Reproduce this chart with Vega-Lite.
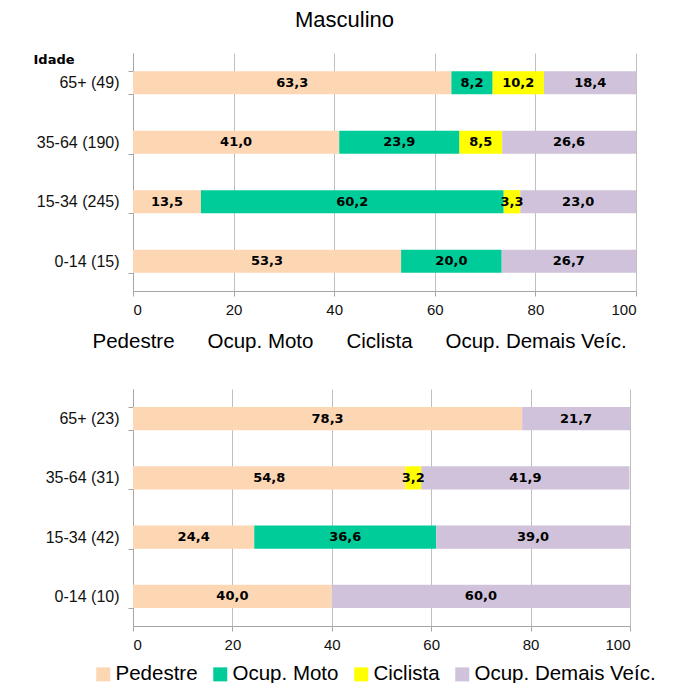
{
  "$schema": "https://vega.github.io/schema/vega-lite/v6.json",
  "padding": {"top": 9, "left": 33, "right": 5, "bottom": 5},
  "title": {"text": "Masculino", "fontSize": 22, "fontWeight": "normal", "color": "#000000", "anchor": "middle", "offset": 13, "font": "Liberation Sans"},
  "config": {
    "font": "Liberation Sans",
    "locale": {"number": {"decimal": ",", "thousands": ".", "grouping": [3], "currency": ["", ""]}},
    "view": {"stroke": null},
    "axis": {"labelFontSize": 16, "labelColor": "#111111", "domainColor": "#A6A6A6", "tickColor": "#A6A6A6", "gridColor": "#BFBFBF", "titleColor": "#000000", "labelFont": "Liberation Sans"}
  },
  "datasets": {
    "masc": [
      {"idade": "65+ (49)", "categoria": "Pedestre", "valor": 63.3},
      {"idade": "65+ (49)", "categoria": "Ocup. Moto", "valor": 8.2},
      {"idade": "65+ (49)", "categoria": "Ciclista", "valor": 10.2},
      {"idade": "65+ (49)", "categoria": "Ocup. Demais Veíc.", "valor": 18.4},
      {"idade": "35-64 (190)", "categoria": "Pedestre", "valor": 41.0},
      {"idade": "35-64 (190)", "categoria": "Ocup. Moto", "valor": 23.9},
      {"idade": "35-64 (190)", "categoria": "Ciclista", "valor": 8.5},
      {"idade": "35-64 (190)", "categoria": "Ocup. Demais Veíc.", "valor": 26.6},
      {"idade": "15-34 (245)", "categoria": "Pedestre", "valor": 13.5},
      {"idade": "15-34 (245)", "categoria": "Ocup. Moto", "valor": 60.2},
      {"idade": "15-34 (245)", "categoria": "Ciclista", "valor": 3.3},
      {"idade": "15-34 (245)", "categoria": "Ocup. Demais Veíc.", "valor": 23.0},
      {"idade": "0-14 (15)", "categoria": "Pedestre", "valor": 53.3},
      {"idade": "0-14 (15)", "categoria": "Ocup. Moto", "valor": 20.0},
      {"idade": "0-14 (15)", "categoria": "Ocup. Demais Veíc.", "valor": 26.7}
    ],
    "fem": [
      {"idade": "65+ (23)", "categoria": "Pedestre", "valor": 78.3},
      {"idade": "65+ (23)", "categoria": "Ocup. Demais Veíc.", "valor": 21.7},
      {"idade": "35-64 (31)", "categoria": "Pedestre", "valor": 54.8},
      {"idade": "35-64 (31)", "categoria": "Ciclista", "valor": 3.2},
      {"idade": "35-64 (31)", "categoria": "Ocup. Demais Veíc.", "valor": 41.9},
      {"idade": "15-34 (42)", "categoria": "Pedestre", "valor": 24.4},
      {"idade": "15-34 (42)", "categoria": "Ocup. Moto", "valor": 36.6},
      {"idade": "15-34 (42)", "categoria": "Ocup. Demais Veíc.", "valor": 39.0},
      {"idade": "0-14 (10)", "categoria": "Pedestre", "valor": 40.0},
      {"idade": "0-14 (10)", "categoria": "Ocup. Demais Veíc.", "valor": 60.0}
    ]
  },
  "spacing": 28,
  "resolve": {"scale": {"color": "independent"}, "legend": {"color": "independent"}},
  "vconcat": [
    {
      "width": 503,
      "height": 238,
      "data": {"name": "masc"},
      "transform": [
        {"calculate": "indexof(['Pedestre','Ocup. Moto','Ciclista','Ocup. Demais Veíc.'], datum.categoria)", "as": "k"},
        {"stack": "valor", "groupby": ["idade"], "sort": [{"field": "k", "order": "ascending"}], "as": ["v0", "v1"]},
        {"calculate": "(datum.v0 + datum.v1) / 2", "as": "vm"}
      ],
      "encoding": {
        "y": {"field": "idade", "type": "nominal", "sort": null, "scale": {"paddingInner": 0.61, "paddingOuter": 0.305},
          "axis": {"title": "Idade", "titleAngle": 0, "titleAlign": "left", "titleBaseline": "alphabetic", "titleX": -100, "titleY": 10, "titleFontSize": 13, "titleFontWeight": "bold", "titleFont": "DejaVu Sans", "tickBand": "extent", "labelPadding": 9}}
      },
      "layer": [
        {
          "mark": {"type": "bar"},
          "encoding": {
            "x": {"field": "v0", "type": "quantitative", "scale": {"domain": [0, 100]}, "axis": {"title": null, "values": [0, 20, 40, 60, 80, 100], "grid": true, "labelPadding": 6, "labelFontSize": 15}},
            "x2": {"field": "v1"},
            "color": {"field": "categoria", "type": "nominal", "scale": {"domain": ["Pedestre", "Ocup. Moto", "Ciclista", "Ocup. Demais Veíc."], "range": ["#FDD6B4", "#00CC99", "#FFFF00", "#CFC2DA"]},
              "legend": {"title": null, "orient": "none", "legendX": -61, "legendY": 279, "direction": "horizontal", "symbolSize": 0, "symbolOpacity": 0, "symbolStrokeWidth": 0, "labelOffset": 0, "columnPadding": 12, "labelFontSize": 20.5, "labelLimit": 400, "labelColor": "#000000"}}
          }
        },
        {
          "mark": {"type": "text", "fontWeight": "bold", "fontSize": 13, "color": "#000000", "font": "DejaVu Sans"},
          "encoding": {
            "x": {"field": "vm", "type": "quantitative"},
            "text": {"field": "valor", "type": "quantitative", "format": ".1f"}
          }
        }
      ]
    },
    {
      "width": 497,
      "height": 237,
      "data": {"name": "fem"},
      "transform": [
        {"calculate": "indexof(['Pedestre','Ocup. Moto','Ciclista','Ocup. Demais Veíc.'], datum.categoria)", "as": "k"},
        {"stack": "valor", "groupby": ["idade"], "sort": [{"field": "k", "order": "ascending"}], "as": ["v0", "v1"]},
        {"calculate": "(datum.v0 + datum.v1) / 2", "as": "vm"}
      ],
      "encoding": {
        "y": {"field": "idade", "type": "nominal", "sort": null, "scale": {"paddingInner": 0.61, "paddingOuter": 0.305},
          "axis": {"title": null, "tickBand": "extent", "labelPadding": 9}}
      },
      "layer": [
        {
          "mark": {"type": "bar"},
          "encoding": {
            "x": {"field": "v0", "type": "quantitative", "scale": {"domain": [0, 100]}, "axis": {"title": null, "values": [0, 20, 40, 60, 80, 100], "grid": true, "labelPadding": 6, "labelFontSize": 15}},
            "x2": {"field": "v1"},
            "color": {"field": "categoria", "type": "nominal", "scale": {"domain": ["Pedestre", "Ocup. Moto", "Ciclista", "Ocup. Demais Veíc."], "range": ["#FDD6B4", "#00CC99", "#FFFF00", "#CFC2DA"]},
              "legend": {"title": null, "orient": "none", "legendX": -40, "legendY": 275, "direction": "horizontal", "symbolType": "square", "symbolSize": 196, "symbolStrokeWidth": 0, "labelOffset": 2, "columnPadding": 12, "labelFontSize": 20.5, "labelLimit": 400, "labelColor": "#000000"}}
          }
        },
        {
          "mark": {"type": "text", "fontWeight": "bold", "fontSize": 13, "color": "#000000", "font": "DejaVu Sans"},
          "encoding": {
            "x": {"field": "vm", "type": "quantitative"},
            "text": {"field": "valor", "type": "quantitative", "format": ".1f"}
          }
        }
      ]
    }
  ]
}
